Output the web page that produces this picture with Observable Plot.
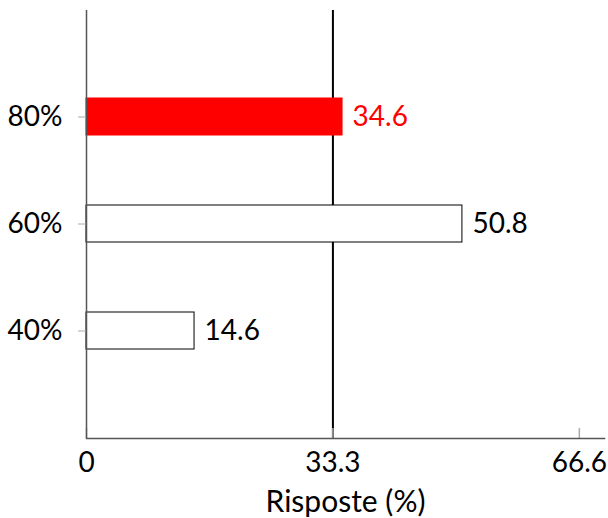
<!DOCTYPE html>
<html>
<head>
<meta charset="utf-8">
<script src="https://cdn.jsdelivr.net/npm/d3@7"></script>
<script src="https://cdn.jsdelivr.net/npm/@observablehq/plot@0.6"></script>
<style>
  html, body { margin: 0; padding: 0; background: #fff; }
  #chart svg { display: block; }
</style>
</head>
<body>
<div id="chart"></div>
<script>
const categories = ["80%", "60%", "40%"];
const values = [34.6, 50.8, 14.6];
const highlighted = ["80%"];
const xTicks = [0, 33.3, 66.6];
const xTickLabels = ["0", "33.3", "66.6"];
const referenceValue = [33.3];
const xLabel = "Risposte (%)";

const data = categories.map((c, i) => ({cat: c, value: values[i], hi: highlighted.includes(c)}));

const chart = Plot.plot({
  width: 608,
  height: 518,
  marginLeft: 86,
  marginRight: 4,
  marginTop: 10,
  marginBottom: 80,
  style: {fontFamily: "Lato, sans-serif", fontSize: "28px", color: "#000", background: "#fff"},
  x: {domain: [0, 70]},
  y: {domain: categories, paddingInner: 0.65, paddingOuter: 0.825},
  marks: [
    Plot.ruleX(referenceValue, {stroke: "#000", strokeWidth: 2}),
    Plot.barX(data, {
      y: "cat", x: "value",
      fill: d => d.hi ? "#ff0000" : "#fff",
      stroke: d => d.hi ? "#ff0000" : "#000",
      strokeWidth: 1
    }),
    Plot.text(data, {
      y: "cat", x: "value", text: d => d.value.toFixed(1),
      dx: 10, textAnchor: "start",
      fill: d => d.hi ? "#ff0000" : "#000",
      fontSize: 28
    }),
    Plot.ruleX(xTicks, {x: d => d, insetTop: 418, stroke: "#aaa", strokeWidth: 1.5}),
    Plot.ruleX([0], {stroke: "#555", strokeWidth: 1.5}),
    Plot.frame({anchor: "bottom", stroke: "#555", strokeWidth: 1.5}),
    Plot.axisY({tickSize: 8, tickPadding: 16, stroke: "#aaa", fill: "#000", fontSize: 28, label: null}),
    Plot.axisX({ticks: xTicks, tickFormat: (d) => xTickLabels[xTicks.indexOf(d)], tickSize: 0, tickPadding: 14, fontSize: 28, fill: "#000",
      label: null}),
    Plot.text([xLabel], {frameAnchor: "bottom", dy: 73, fontSize: 30, fill: "#000", text: d => d})
  ]
});
document.getElementById("chart").appendChild(chart);
</script>
</body>
</html>
